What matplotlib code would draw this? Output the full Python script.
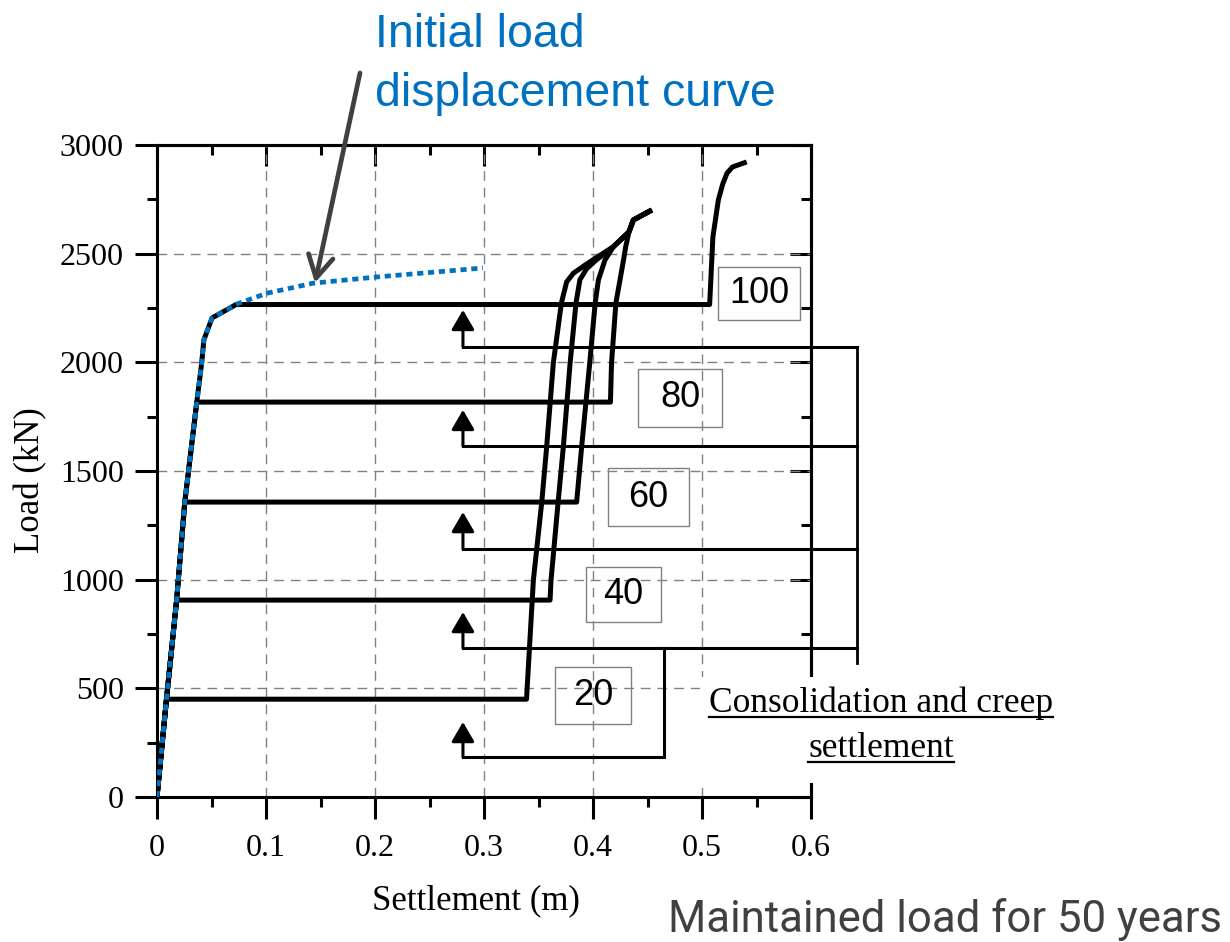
import numpy as np
import matplotlib
matplotlib.use("Agg")
import matplotlib.pyplot as plt
from matplotlib.patches import Rectangle
from matplotlib.lines import Line2D
from matplotlib.ticker import MultipleLocator, FuncFormatter

plt.rcParams["font.family"] = ["Liberation Serif", "DejaVu Serif"]

# ---------------------------------------------------------------------------
# Data
# ---------------------------------------------------------------------------
# Initial (virgin) load-displacement curve
initial_settlement = [0.0, 0.0087, 0.018, 0.0255, 0.0365, 0.041, 0.043, 0.0505,
                      0.074, 0.101, 0.143, 0.202, 0.299]
initial_load = [0, 450, 906, 1357, 1817, 1997, 2103, 2204,
                2270, 2318, 2364, 2393, 2434]

# Maintained-load cases (load held, settlement at end of the holding period)
duration_labels = ["20", "40", "60", "80", "100"]
hold_load = [450, 906, 1357, 1817, 2266]
hold_end_settlement = [0.339, 0.3606, 0.385, 0.416, 0.507]

# Reloading branches after the holding period
reload_20_settlement = [0.3453, 0.353, 0.3575, 0.3636, 0.371, 0.3758, 0.382,
                        0.392, 0.401, 0.4187, 0.433, 0.437, 0.454]
reload_20_load = [998, 1357, 1612, 1997, 2273, 2370, 2410,
                  2445, 2475, 2532, 2600, 2655, 2701]
reload_40_settlement = [0.3615, 0.368, 0.3728, 0.379, 0.3844, 0.388, 0.394,
                        0.403, 0.4187, 0.433, 0.437, 0.454]
reload_40_load = [998, 1357, 1612, 1997, 2273, 2380, 2430,
                  2471, 2532, 2600, 2655, 2701]
reload_60_settlement = [0.3896, 0.397, 0.402, 0.405, 0.411, 0.4187, 0.433,
                        0.437, 0.454]
reload_60_load = [1612, 1997, 2273, 2380, 2471, 2532, 2600, 2655, 2701]
reload_80_settlement = [0.417, 0.421, 0.4248, 0.428, 0.430, 0.433, 0.437, 0.454]
reload_80_load = [1997, 2273, 2380, 2471, 2532, 2600, 2655, 2701]
reload_100_settlement = [0.510, 0.515, 0.519, 0.523, 0.528, 0.541]
reload_100_load = [2577, 2747, 2820, 2871, 2899, 2922]

reload_settlement = [reload_20_settlement, reload_40_settlement,
                     reload_60_settlement, reload_80_settlement,
                     reload_100_settlement]
reload_load = [reload_20_load, reload_40_load, reload_60_load,
               reload_80_load, reload_100_load]

x_ticks = [0, 0.1, 0.2, 0.3, 0.4, 0.5, 0.6]
y_ticks = [0, 500, 1000, 1500, 2000, 2500, 3000]

# ---------------------------------------------------------------------------
# Figure
# ---------------------------------------------------------------------------
W, H = 1230, 942
fig = plt.figure(figsize=(W / 100, H / 100), dpi=100)


def fpx(x, y):
    """Pixel position (origin top-left) to figure fraction."""
    return x / W, 1 - y / H


ax = fig.add_axes([157 / W, 1 - 797 / H, (811 - 157) / W, (797 - 145) / H])
ax.set_xlim(0, 0.6)
ax.set_ylim(0, 3000)
ax.set_axisbelow(True)

ax.set_xticks(x_ticks)
ax.set_yticks(y_ticks)
ax.xaxis.set_minor_locator(MultipleLocator(0.05))
ax.yaxis.set_minor_locator(MultipleLocator(250))
ax.xaxis.set_major_formatter(FuncFormatter(lambda v, p: "0" if abs(v) < 1e-9 else f"{v:.1f}"))
ax.yaxis.set_major_formatter(FuncFormatter(lambda v, p: f"{int(round(v))}"))
ax.tick_params(axis="x", which="major", direction="out", length=16, width=2.2,
               labelsize=23, pad=11)
ax.tick_params(axis="y", which="major", direction="out", length=16, width=2.2,
               labelsize=23, pad=8)
ax.tick_params(which="minor", direction="out", length=7, width=2.2)
for sp in ax.spines.values():
    sp.set_linewidth(2.2)

# inward ticks on the top and right frame
top = ax.secondary_xaxis("top")
top.set_xticks(x_ticks)
top.xaxis.set_minor_locator(MultipleLocator(0.05))
top.tick_params(which="major", direction="in", length=15, width=2.2, labeltop=False)
top.tick_params(which="minor", direction="in", length=7, width=2.2)
top.spines["top"].set_linewidth(2.2)
right = ax.secondary_yaxis("right")
right.set_yticks(y_ticks)
right.yaxis.set_minor_locator(MultipleLocator(250))
right.tick_params(which="major", direction="in", length=15, width=2.2, labelright=False)
right.tick_params(which="minor", direction="in", length=7, width=2.2)
right.spines["right"].set_linewidth(2.2)

ax.grid(True, which="major", color="#808080", lw=1.0, linestyle=(0, (7, 5)))

# ---------------------------------------------------------------------------
# Curves
# ---------------------------------------------------------------------------
init_s = np.array(initial_settlement)
init_q = np.array(initial_load)
for q, s_end, rs, rq in zip(hold_load, hold_end_settlement,
                            reload_settlement, reload_load):
    mask = init_q < q
    s_start = np.interp(q, init_q, init_s)
    xs = list(init_s[mask]) + [s_start, s_end] + list(rs)
    ys = list(init_q[mask]) + [q, q] + list(rq)
    ax.plot(xs, ys, color="black", lw=3.6, solid_joinstyle="round",
            solid_capstyle="butt", zorder=3)

ax.plot(initial_settlement, initial_load, color="#0070C0", lw=3.4,
        linestyle=(0, (1.3, 1.0)), dash_capstyle="butt", zorder=4)

# ---------------------------------------------------------------------------
# Duration labels in boxes
# ---------------------------------------------------------------------------
box_centres = [(0.400, 467), (0.428, 932), (0.4509, 1380), (0.4798, 1836), (0.5523, 2317)]
box_sizes = [(0.0697, 262), (0.0688, 253), (0.0743, 267), (0.0771, 267), (0.0752, 244)]
for lab, (cx, cy), (bw, bh) in zip(duration_labels, box_centres, box_sizes):
    ax.add_patch(Rectangle((cx - bw / 2, cy - bh / 2), bw, bh, fill=False,
                           ec="#808080", lw=1.0, clip_on=False, zorder=5))
    ax.text(cx, cy, lab, ha="center", va="center", fontsize=26,
            family=["Liberation Sans", "DejaVu Sans"], zorder=6, clip_on=False)

# ---------------------------------------------------------------------------
# Brackets with arrows pointing at the holding levels
# ---------------------------------------------------------------------------
arrow_x = 0.2807
collector_x = 0.642
bracket_y = [184, 686, 1141, 1615, 2071]
arrow_tip = [345, 851, 1311, 1781, 2241]
for yb, yt in zip(bracket_y, arrow_tip):
    ax.annotate("", xy=(arrow_x, yt), xytext=(arrow_x, yb),
                arrowprops=dict(arrowstyle="-|>,head_length=0.6,head_width=0.35",
                                color="black", lw=2.2, mutation_scale=20,
                                shrinkA=0, shrinkB=0),
                annotation_clip=False, zorder=5)
# first bracket joins the collector through its own riser
ax.plot([arrow_x, 0.465, 0.465], [bracket_y[0], bracket_y[0], bracket_y[1]],
        color="black", lw=2.2, clip_on=False, zorder=5, solid_joinstyle="miter")
for yb in bracket_y[1:]:
    ax.plot([arrow_x, collector_x], [yb, yb], color="black", lw=2.2,
            clip_on=False, zorder=5)
ax.plot([collector_x, collector_x], [bracket_y[-1], 617], color="black", lw=2.0,
        clip_on=False, zorder=5)

# ---------------------------------------------------------------------------
# Axis titles and annotations
# ---------------------------------------------------------------------------
fig.text(*fpx(476, 909), "Settlement (m)", ha="center", va="baseline", fontsize=25)
fig.text(*fpx(31, 480), "Load (kN)", ha="center", va="center", rotation=90, fontsize=25)

blue_font = ["Liberation Sans", "DejaVu Sans"]
fig.text(*fpx(375, 47), "Initial load", ha="left", va="baseline", fontsize=33.5,
         color="#0070C0", family=blue_font)
fig.text(*fpx(375, 106), "displacement curve", ha="left", va="baseline", fontsize=33.5,
         color="#0070C0", family=blue_font)

ax.annotate("", xy=(0.145, 2366), xytext=(360, H - 73), textcoords="figure pixels",
            arrowprops=dict(arrowstyle="->,head_length=0.8,head_width=0.45",
                            color="#404040", lw=3.4, mutation_scale=20,
                            shrinkA=0, shrinkB=0),
            annotation_clip=False, zorder=6)

footer = fig.text(*fpx(668, 932), "Maintained load for 50 years", ha="left",
                  va="baseline", fontsize=30, color="#404040",
                  family=["Roboto", "Liberation Sans", "DejaVu Sans"])

# white panel holding the underlined caption
fig.add_artist(Rectangle(fpx(700, 783), 362 / W, 106 / H, transform=fig.transFigure,
                         fc="white", ec="none", zorder=10))
cap1 = fig.text(*fpx(881, 712), "Consolidation and creep", ha="center", va="baseline",
                fontsize=25.5, zorder=11)
cap2 = fig.text(*fpx(881, 757), "settlement", ha="center", va="baseline",
                fontsize=25.5, zorder=11)

fig.canvas.draw()
renderer = fig.canvas.get_renderer()

# footer spans from x=668 to x=1222
fw = footer.get_window_extent(renderer).width
footer.set_fontsize(30 * 554 / fw)

for t, ybase in ((cap1, 712), (cap2, 757)):
    bb = t.get_window_extent(renderer)
    yl = 1 - (ybase + 5) / H
    fig.add_artist(Line2D([bb.x0 / W, bb.x1 / W], [yl, yl], transform=fig.transFigure,
                          color="black", lw=1.6, zorder=11))

fig.savefig("out.png", dpi=100)
